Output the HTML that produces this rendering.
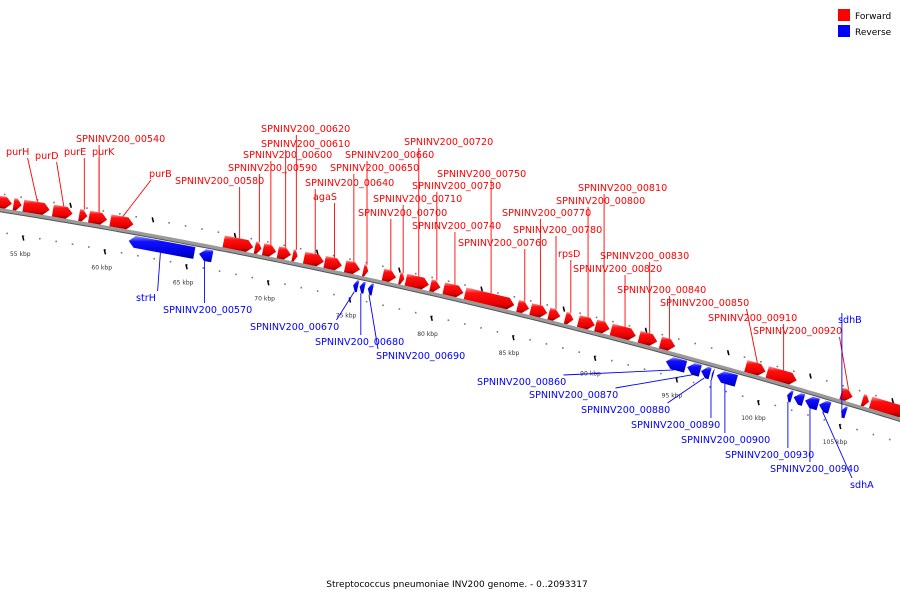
<!DOCTYPE html>
<html><head><meta charset="utf-8"><style>
html,body{margin:0;padding:0;background:#fff;}
svg{display:block;font-family:"DejaVu Sans","Liberation Sans",sans-serif;}
</style></head><body>
<svg id="chart" width="900" height="600" viewBox="0 0 900 600" xmlns="http://www.w3.org/2000/svg">
<defs>
<linearGradient id="gr" x1="0" y1="0" x2="0" y2="1"><stop offset="0" stop-color="#ff9a9a"/><stop offset="0.25" stop-color="#ff1010"/><stop offset="0.75" stop-color="#e80000"/><stop offset="1" stop-color="#8a0000"/></linearGradient>
<linearGradient id="gb" x1="0" y1="0" x2="0" y2="1"><stop offset="0" stop-color="#8f8fff"/><stop offset="0.25" stop-color="#1010ff"/><stop offset="0.75" stop-color="#0000e0"/><stop offset="1" stop-color="#000088"/></linearGradient>
</defs>
<rect x="838" y="9" width="12" height="12" fill="#f00"/>
<text x="855" y="19" font-size="9" fill="#000">Forward</text>
<rect x="838" y="25" width="12" height="12" fill="#00f"/>
<text x="855" y="35" font-size="9" fill="#000">Reverse</text>
<text x="457" y="587" font-size="9" text-anchor="middle" fill="#000">Streptococcus pneumoniae INV200 genome. - 0..2093317</text>
<g id="layer"></g>
</svg>
<script>
const fwdStart=[53.0,54.1,54.7,56.5,58.1,58.7,60.0,66.9,68.8,69.3,70.2,71.1,71.8,73.05,74.3,75.4,76.6,77.6,78.0,79.5,80.3,81.6,84.8,85.6,86.7,87.7,88.5,89.55,90.5,92.2,93.5,98.7,100.0,104.5,105.8,106.3];
const fwdEnd=[54.0,54.6,56.3,57.7,58.6,59.8,61.4,68.7,69.2,70.1,71.0,71.4,73.0,74.1,75.2,75.7,77.4,77.9,79.4,80.1,81.5,84.6,85.5,86.6,87.4,88.2,89.5,90.4,92.0,93.3,94.4,99.9,101.8,105.2,106.2,108.5];
const revStart=[61.3,65.6,75.0,75.4,75.9,94.1,95.4,96.25,96.9,97.2,101.5,101.9,102.6,103.45,104.8];
const revEnd=[65.3,66.4,75.3,75.7,76.2,95.3,96.2,96.8,97.0,98.4,101.8,102.5,103.4,104.1,105.1];
const scaleTicks=[55,60,65,70,75,80,85,90,95,100,105];
const fwdLabels=["purH","purD","purE","purK","SPNINV200_00540","purB","SPNINV200_00580","SPNINV200_00590","SPNINV200_00600","SPNINV200_00610","SPNINV200_00620","SPNINV200_00640","agaS","SPNINV200_00650","SPNINV200_00660","SPNINV200_00700","SPNINV200_00710","SPNINV200_00720","SPNINV200_00730","SPNINV200_00740","SPNINV200_00750","SPNINV200_00760","SPNINV200_00770","SPNINV200_00780","rpsD","SPNINV200_00800","SPNINV200_00810","SPNINV200_00820","SPNINV200_00830","SPNINV200_00840","SPNINV200_00850","SPNINV200_00910","SPNINV200_00920"];
const fwdLabelGene=[2,3,4,5,5,6,7,8,9,10,11,12,13,14,15,16,17,18,19,20,21,22,23,24,25,26,27,28,29,30,31,32,33];
const fwdLabelPos=[[6,155],[35,159],[64,155],[92,155],[76,142],[149,177],[175,184],[228,171],[243,158],[261,147],[261,132],[305,186],[313,200],[330,171],[345,158],[358,216],[373,202],[404,145],[412,189],[412,229],[437,177],[458,246],[502,216],[513,233],[558,257],[556,204],[578,191],[573,272],[600,259],[617,293],[660,306],[708,321],[753,334]];
const revLabels=["strH","SPNINV200_00570","SPNINV200_00670","SPNINV200_00680","SPNINV200_00690","SPNINV200_00860","SPNINV200_00870","SPNINV200_00880","SPNINV200_00890","SPNINV200_00900","SPNINV200_00930","SPNINV200_00940","sdhA","sdhB"];
const revLabelGene=[0,1,2,3,4,5,6,7,8,9,10,12,13,14];
const revLabelPos=[[136,301],[163,313],[250,330],[315,345],[376,359],[477,385],[529,398],[581,413],[631,428],[681,443],[725,458],[770,472],[850,488],[838,323]];

const NS="http://www.w3.org/2000/svg";
const layer=document.getElementById('layer');
function kx(k){return 27+(k-55)*16.4;}
function cy(x){return 210+0.158*x+0.0000833*x*x;}
function ang(x){return Math.atan(0.158+2*0.0000833*x);}
function pt(x,off,a){return [x-off*Math.sin(a),cy(x)+off*Math.cos(a)];}
function mk(tag,attrs){const e=document.createElementNS(NS,tag);for(const k in attrs)e.setAttribute(k,attrs[k]);layer.appendChild(e);return e;}

let d="";for(let x=-5;x<=905;x+=5){d+=(x===-5?"M":"L")+x+","+cy(x).toFixed(2);}
let bb=mk('path',{d:d,fill:'none',stroke:'#9a9a9a','stroke-width':4});


let d2="";for(let x=-5;x<=905;x+=5){d2+=(x===-5?"M":"L")+x+","+(cy(x)+1.8).toFixed(2);}
let bb2=mk('path',{d:d2,fill:'none',stroke:'#555','stroke-width':1});



for(let k=52;k<=109;k+=1){
  const x=kx(k),a=ang(x);
  [-16,22].forEach(o=>{const p=pt(x+(o<0?8:0),o,a);const r=mk('rect',{x:p[0]-0.8,y:p[1]-0.8,width:1.6,height:1.6,fill:'#777'});
    
    });
}
for(let k=52.5;k<=109;k+=5){
  const x=kx(k),a=ang(x);const p=pt(x,-16,a);
  const l=mk('line',{x1:p[0]-0.6,y1:p[1]-2.5,x2:p[0]+0.6,y2:p[1]+2.5,stroke:'#000','stroke-width':1.5});
  
  
}
scaleTicks.forEach(k=>{
  const x=kx(k),a=ang(x);const p=pt(x,24,a);
  const l=mk('line',{x1:p[0]-0.6,y1:p[1]-2.5,x2:p[0]+0.6,y2:p[1]+2.5,stroke:'#000','stroke-width':1.5});
  
  
  const q=pt(x,42,a);
  const t=mk('text',{x:q[0],y:q[1],'font-size':6,'text-anchor':'middle',fill:'#333'});
  t.textContent=k+" kbp";
  
  
});

function gene(s,e,fwd){
  const x1=kx(s),x2=kx(e),xm=(x1+x2)/2,a=ang(xm);
  const o1=fwd?-14:3,o2=fwd?-2:15;
  const tip=Math.min(6,(x2-x1)*0.6);
  let P;
  if(fwd){P=[pt(x1,o1,a),pt(x2-tip,o1,a),pt(x2,(o1+o2)/2,a),pt(x2-tip,o2,a),pt(x1,o2,a)];}
  else{P=[pt(x1,(o1+o2)/2,a),pt(x1+tip,o1,a),pt(x2,o1,a),pt(x2,o2,a),pt(x1+tip,o2,a)];}
  const g=mk('polygon',{points:P.map(p=>p[0].toFixed(1)+","+p[1].toFixed(1)).join(" "),fill:fwd?'url(#gr)':'url(#gb)'});
  
  
  return {x:xm,top:pt(xm,o1,a),bot:pt(xm,o2,a)};
}
const fg=fwdStart.map((s,i)=>gene(s,fwdEnd[i],true));
const rg=revStart.map((s,i)=>gene(s,revEnd[i],false));

function label(txt,pos,g,fwd){
  const w=txt.length*5.9;
  const t=mk('text',{x:pos[0],y:pos[1],'font-size':9.6,fill:fwd?'#f00':'#00f'});
  t.textContent=txt;
  
  
  const target=fwd?g.top:g.bot;
  const sx=Math.max(pos[0]+2,Math.min(pos[0]+w-2,target[0]));
  const sy=fwd?pos[1]+3:pos[1]-10;
  const l=mk('line',{x1:sx,y1:sy,x2:target[0],y2:target[1],stroke:fwd?'#f00':'#00f','stroke-width':0.9});
  
  
}
fwdLabels.forEach((t,i)=>label(t,fwdLabelPos[i],fg[fwdLabelGene[i]],true));
revLabels.forEach((t,i)=>label(t,revLabelPos[i],rg[revLabelGene[i]],false));
</script>
</body></html>
